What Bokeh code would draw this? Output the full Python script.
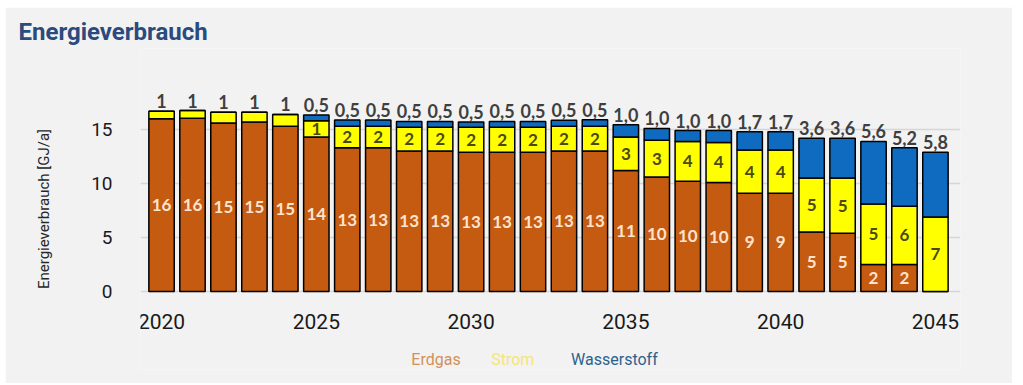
from bokeh.plotting import figure
from bokeh.models import ColumnDataSource, FixedTicker, Range1d
from bokeh.embed import file_html
from bokeh.resources import INLINE
from bokeh.core.properties import value

years = list(range(2020, 2046))
erdgas = [16.0, 16.05, 15.6, 15.7, 15.3, 14.3, 13.3, 13.3, 13.0, 13.0, 12.9, 12.9, 12.9,
          13.0, 13.0, 11.2, 10.6, 10.2, 10.1, 9.1, 9.1, 5.5, 5.4, 2.5, 2.5, 0.0]
strom = [0.7, 0.7, 1.0, 0.9, 1.1, 1.5, 2.0, 2.0, 2.2, 2.2, 2.3, 2.3, 2.3,
         2.3, 2.3, 3.1, 3.4, 3.7, 3.7, 4.0, 4.0, 5.0, 5.1, 5.6, 5.4, 6.9]
wasserstoff = [0, 0, 0, 0, 0, 0.55, 0.59, 0.59, 0.55, 0.55, 0.5, 0.55, 0.55,
               0.55, 0.6, 1.15, 1.1, 1.0, 1.1, 1.7, 1.7, 3.7, 3.7, 5.8, 5.4, 6.0]

erdgas_labels = ["16", "16", "15", "15", "15", "14", "13", "13", "13", "13", "13", "13", "13",
                 "13", "13", "11", "10", "10", "10", "9", "9", "5", "5", "2", "2", ""]
strom_labels = ["", "", "", "", "", "1", "2", "2", "2", "2", "2", "2", "2",
                "2", "2", "3", "3", "4", "4", "4", "4", "5", "5", "5", "6", "7"]
top_labels = ["1", "1", "1", "1", "1", "0,5", "0,5", "0,5", "0,5", "0,5", "0,5", "0,5", "0,5",
              "0,5", "0,5", "1,0", "1,0", "1,0", "1,0", "1,7", "1,7", "3,6", "3,6", "5,6", "5,2", "5,8"]

series = ["Erdgas", "Strom", "Wasserstoff"]
colors = ["#c55a11", "#ffff00", "#0f6bbf"]
legend_colors = ["#d1915a", "#f3e57a", "#2c628f"]
x_ticks = [2020, 2025, 2030, 2035, 2040, 2045]
y_ticks = [0, 5, 10, 15]
title_text = "Energieverbrauch"
y_label = "Energieverbrauch [GJ/a]"

BG = "#f2f2f2"
X0, X1 = 2019.32, 2045.81
Y0, Y1 = -7.22, 22.5

src = ColumnDataSource(dict(
    year=years, Erdgas=erdgas, Strom=strom, Wasserstoff=wasserstoff,
    e_mid=[e / 2 for e in erdgas],
    s_mid=[e + s / 2 for e, s in zip(erdgas, strom)],
    total=[e + s + w for e, s, w in zip(erdgas, strom, wasserstoff)],
    el=erdgas_labels, sl=strom_labels, tl=top_labels,
))

p = figure(width=1007, height=376, output_backend="svg", toolbar_location=None,
           x_range=Range1d(X0, X1), y_range=Range1d(Y0, Y1),
           min_border_left=135, min_border_right=52, min_border_top=41, min_border_bottom=14,
           title=title_text)
p.margin = (7, 0, 0, 5)
p.background_fill_color = BG
p.border_fill_color = BG
p.outline_line_color = None
p.xgrid.visible = False
p.ygrid.grid_line_color = "#d6d6d6"
p.ygrid.grid_line_width = 1.5

p.title.align = "left"
p.title.offset = -122
p.title.standoff = 5
p.title.text_font = "Roboto"
p.title.text_font_style = "bold"
p.title.text_font_size = "24px"
p.title.text_color = "#2b4a7e"

p.vbar_stack(series, x="year", width=0.82, color=colors, source=src,
             line_color="black", line_width=1.5)

p.text(x="year", y="e_mid", text="el", source=src, text_font=value("Lato"),
       text_font_style="bold", text_font_size="17px", text_color="#fde4cf",
       text_align="center", text_baseline="middle")
p.text(x="year", y="s_mid", text="sl", source=src, text_font=value("Lato"),
       text_font_style="bold", text_font_size="17px", text_color="#4a4a10",
       text_align="center", text_baseline="middle")
p.text(x="year", y="total", text="tl", source=src, text_font=value("Lato"),
       text_font_style="bold", text_font_size="18px", text_color="#3f3f3f",
       text_align="center", text_baseline="bottom", y_offset=-3)

p.xaxis.ticker = FixedTicker(ticks=x_ticks)
p.xaxis.fixed_location = 0
p.yaxis.ticker = FixedTicker(ticks=y_ticks)
for ax in (p.xaxis[0], p.yaxis[0]):
    ax.axis_line_color = None
    ax.major_tick_line_color = None
    ax.minor_tick_line_color = None
    ax.major_label_text_font = "Roboto"
    ax.major_label_text_color = "#1a1a1a"
p.xaxis.major_label_text_font_size = "21px"
p.xaxis.major_label_standoff = 16
p.yaxis.major_label_text_font_size = "19px"
p.yaxis.major_label_standoff = 22
p.yaxis.axis_label = y_label
p.yaxis.axis_label_text_font = "Roboto"
p.yaxis.axis_label_text_font_style = "normal"
p.yaxis.axis_label_text_font_size = "15px"
p.yaxis.axis_label_text_color = "#262626"
p.yaxis.axis_label_standoff = 35

# legend texts
p.text(x=[2028.07, 2030.65, 2033.23], y=[-6.3, -6.3, -6.3], text=series,
       text_color=legend_colors, text_font=value("Roboto"), text_font_size="16px",
       text_baseline="middle", text_align="left")

open("out.html", "w").write(file_html(p, INLINE))
